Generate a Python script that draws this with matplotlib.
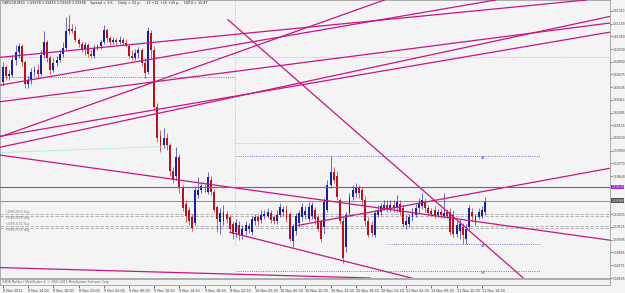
import matplotlib
matplotlib.use('Agg')
from matplotlib import pyplot as plt
import numpy as np

# GBPUSD M30 candles, 8 Nov 10:00 .. 11 Nov 14:30
opens = [1.6060, 1.6075, 1.6066, 1.6067, 1.6082, 1.6090, 1.6096, 1.6080, 1.6058, 1.6062,
         1.6070, 1.6072, 1.6068, 1.6087, 1.6100, 1.6084, 1.6072, 1.6079, 1.6082, 1.6088,
         1.6094, 1.6111, 1.6114, 1.6112, 1.6102, 1.6098, 1.6093, 1.6097, 1.6088, 1.6086,
         1.6094, 1.6096, 1.6100, 1.6113, 1.6104, 1.6100, 1.6102, 1.6100, 1.6102, 1.6099,
         1.6096, 1.6086, 1.6084, 1.6089, 1.6092, 1.6079, 1.6070, 1.6109, 1.6092, 1.6034,
         1.6005, 1.5996, 1.6003, 1.5996, 1.5969, 1.5964, 1.5983, 1.5953, 1.5936, 1.5930,
         1.5922, 1.5916, 1.5945, 1.5950, 1.5952, 1.5948, 1.5960, 1.5948, 1.5933, 1.5917,
         1.5918, 1.5926, 1.5922, 1.5915, 1.5907, 1.5914, 1.5904, 1.5908, 1.5910, 1.5907,
         1.5918, 1.5922, 1.5919, 1.5923, 1.5923, 1.5927, 1.5922, 1.5918, 1.5925, 1.5928,
         1.5930, 1.5926, 1.5898, 1.5908, 1.5916, 1.5922, 1.5925, 1.5920, 1.5924, 1.5930,
         1.5922, 1.5918, 1.5912, 1.5930, 1.5955, 1.5968, 1.5964, 1.5940, 1.5918, 1.5892,
         1.5927, 1.5943, 1.5947, 1.5952, 1.5950, 1.5940, 1.5918, 1.5914, 1.5904, 1.5925,
         1.5928, 1.5932, 1.5935, 1.5931, 1.5935, 1.5932, 1.5936, 1.5932, 1.5914, 1.5915,
         1.5922, 1.5925, 1.5932, 1.5934, 1.5938, 1.5932, 1.5929, 1.5930, 1.5925, 1.5928,
         1.5924, 1.5928, 1.5928, 1.5925, 1.5905, 1.5908, 1.5912, 1.5900, 1.5912, 1.5928,
         1.5918, 1.5922, 1.5923, 1.5928]
highs = [1.6080, 1.6077, 1.6072, 1.6087, 1.6097, 1.6099, 1.6098, 1.6082, 1.6066, 1.6074,
         1.6076, 1.6078, 1.6092, 1.6111, 1.6102, 1.6087, 1.6084, 1.6086, 1.6092, 1.6100,
         1.6126, 1.6128, 1.6119, 1.6117, 1.6104, 1.6101, 1.6100, 1.6099, 1.6092, 1.6097,
         1.6098, 1.6102, 1.6118, 1.6115, 1.6106, 1.6105, 1.6104, 1.6106, 1.6105, 1.6103,
         1.6098, 1.6092, 1.6093, 1.6095, 1.6094, 1.6084, 1.6116, 1.6113, 1.6096, 1.6038,
         1.6011, 1.6013, 1.6008, 1.5998, 1.5973, 1.5994, 1.5986, 1.5955, 1.5940, 1.5933,
         1.5926, 1.5954, 1.5963, 1.5958, 1.5956, 1.5968, 1.5964, 1.5951, 1.5935, 1.5932,
         1.5935, 1.5929, 1.5925, 1.5918, 1.5920, 1.5918, 1.5914, 1.5918, 1.5916, 1.5923,
         1.5926, 1.5925, 1.5930, 1.5930, 1.5932, 1.5930, 1.5925, 1.5930, 1.5937, 1.5934,
         1.5935, 1.5928, 1.5915, 1.5927, 1.5930, 1.5937, 1.5934, 1.5938, 1.5938, 1.5933,
         1.5925, 1.5920, 1.5942, 1.5960, 1.5984, 1.5973, 1.5969, 1.5942, 1.5922, 1.5928,
         1.5947, 1.5955, 1.5957, 1.5955, 1.5953, 1.5944, 1.5922, 1.5918, 1.5930, 1.5935,
         1.5937, 1.5940, 1.5940, 1.5940, 1.5940, 1.5945, 1.5940, 1.5935, 1.5925, 1.5926,
         1.5932, 1.5936, 1.5942, 1.5947, 1.5942, 1.5935, 1.5932, 1.5934, 1.5931, 1.5932,
         1.5947, 1.5931, 1.5932, 1.5930, 1.5918, 1.5920, 1.5916, 1.5915, 1.5935, 1.5932,
         1.5926, 1.5932, 1.5934, 1.5943]
lows = [1.6056, 1.6062, 1.6062, 1.6065, 1.6077, 1.6084, 1.6076, 1.6054, 1.6054, 1.6058,
        1.6066, 1.6064, 1.6066, 1.6084, 1.6080, 1.6068, 1.6070, 1.6076, 1.6080, 1.6085,
        1.6092, 1.6108, 1.6109, 1.6100, 1.6095, 1.6090, 1.6087, 1.6085, 1.6084, 1.6084,
        1.6092, 1.6093, 1.6098, 1.6100, 1.6097, 1.6098, 1.6097, 1.6098, 1.6097, 1.6095,
        1.6084, 1.6082, 1.6082, 1.6084, 1.6076, 1.6064, 1.6068, 1.6084, 1.6032, 1.5999,
        1.5989, 1.5993, 1.5991, 1.5964, 1.5957, 1.5960, 1.5947, 1.5929, 1.5917, 1.5914,
        1.5908, 1.5914, 1.5942, 1.5947, 1.5948, 1.5946, 1.5945, 1.5928, 1.5907, 1.5905,
        1.5914, 1.5916, 1.5906, 1.5900, 1.5902, 1.5899, 1.5900, 1.5904, 1.5906, 1.5904,
        1.5914, 1.5914, 1.5916, 1.5920, 1.5921, 1.5916, 1.5915, 1.5915, 1.5922, 1.5924,
        1.5917, 1.5898, 1.5892, 1.5904, 1.5912, 1.5918, 1.5920, 1.5918, 1.5920, 1.5915,
        1.5908, 1.5897, 1.5905, 1.5928, 1.5952, 1.5957, 1.5940, 1.5915, 1.5876, 1.5887,
        1.5924, 1.5940, 1.5943, 1.5942, 1.5935, 1.5913, 1.5902, 1.5903, 1.5902, 1.5922,
        1.5925, 1.5930, 1.5928, 1.5928, 1.5928, 1.5928, 1.5925, 1.5912, 1.5910, 1.5912,
        1.5918, 1.5922, 1.5928, 1.5931, 1.5928, 1.5924, 1.5923, 1.5921, 1.5922, 1.5921,
        1.5921, 1.5921, 1.5904, 1.5902, 1.5902, 1.5900, 1.5895, 1.5895, 1.5908, 1.5918,
        1.5914, 1.5920, 1.5921, 1.5925]
closes = [1.6075, 1.6066, 1.6068, 1.6082, 1.6090, 1.6096, 1.6080, 1.6058, 1.6062, 1.6070,
          1.6072, 1.6068, 1.6087, 1.6100, 1.6084, 1.6072, 1.6079, 1.6082, 1.6088, 1.6094,
          1.6111, 1.6114, 1.6112, 1.6102, 1.6098, 1.6093, 1.6097, 1.6088, 1.6086, 1.6094,
          1.6096, 1.6100, 1.6113, 1.6104, 1.6100, 1.6102, 1.6100, 1.6102, 1.6099, 1.6096,
          1.6086, 1.6084, 1.6089, 1.6092, 1.6079, 1.6069, 1.6111, 1.6092, 1.6034, 1.6003,
          1.5996, 1.6003, 1.5996, 1.5969, 1.5960, 1.5983, 1.5953, 1.5932, 1.5923, 1.5918,
          1.5911, 1.5950, 1.5950, 1.5954, 1.5953, 1.5963, 1.5948, 1.5930, 1.5920, 1.5927,
          1.5928, 1.5920, 1.5910, 1.5905, 1.5916, 1.5904, 1.5910, 1.5914, 1.5913, 1.5920,
          1.5922, 1.5918, 1.5925, 1.5926, 1.5928, 1.5919, 1.5918, 1.5925, 1.5933, 1.5931,
          1.5920, 1.5900, 1.5913, 1.5923, 1.5927, 1.5933, 1.5929, 1.5933, 1.5935, 1.5920,
          1.5910, 1.5900, 1.5938, 1.5955, 1.5968, 1.5960, 1.5943, 1.5918, 1.5881, 1.5925,
          1.5943, 1.5950, 1.5952, 1.5947, 1.5940, 1.5918, 1.5904, 1.5906, 1.5927, 1.5930,
          1.5934, 1.5935, 1.5931, 1.5935, 1.5932, 1.5938, 1.5928, 1.5915, 1.5918, 1.5922,
          1.5928, 1.5932, 1.5937, 1.5940, 1.5932, 1.5927, 1.5926, 1.5925, 1.5928, 1.5925,
          1.5927, 1.5924, 1.5907, 1.5905, 1.5914, 1.5915, 1.5904, 1.5910, 1.5932, 1.5923,
          1.5923, 1.5928, 1.5930, 1.5938]

time_labels = ['8 Nov 2011', '8 Nov 14:00', '8 Nov 18:00', '8 Nov 22:00', '9 Nov 02:00',
               '9 Nov 06:00', '9 Nov 10:30', '9 Nov 14:30', '9 Nov 18:30', '9 Nov 22:30',
               '10 Nov 02:30', '10 Nov 06:30', '10 Nov 10:30', '10 Nov 14:30', '10 Nov 18:30',
               '10 Nov 22:30', '11 Nov 02:30', '11 Nov 06:30', '11 Nov 10:30', '11 Nov 14:30']
price_ticks = [1.61320, 1.61190, 1.61060, 1.60930, 1.60800, 1.60675, 1.60545, 1.60415,
               1.60285, 1.60155, 1.60030, 1.59900, 1.59770, 1.59640, 1.59255, 1.59125,
               1.58995, 1.58865, 1.58735, 1.58605]

# trend lines as two anchors (bar index, price), drawn as infinite lines
trend_lines = [((0, 1.6085), (150, 1.6132)),
               ((0, 1.6057), (100, 1.6112)),
               ((0, 1.6040), (150, 1.6102)),
               ((0, 1.6005), (100, 1.6119)),
               ((0, 1.6005), (150, 1.6087)),
               ((0, 1.5994), (150, 1.6097)),
               ((0, 1.5985), (150, 1.5918)),
               ((0, 1.5871), (100, 1.5862))]
# rays start at their first anchor
trend_rays = [((71.4, 1.6123), (165.0, 1.5861)),
              ((93.7, 1.5914), (150, 1.5947)),
              ((72.0, 1.5907), (129, 1.5861))]

hline_price = 1.5953
bid_price = 1.59388
order_levels = [1.59260, 1.59230, 1.59138, 1.59118]
order_texts = ['+2089(2817) Buy', '+2089(4299) Avg', '+2089(2161) Buy', '+2089(2191) Avg']

header = ('GBPUSD,M30  1.59378 1.59415 1.59369 1.59388    Spread = 3.6,    '
          'Daily = 52 p,    -13 +11 +15 +25 p,    H4T4 = 15:47')

BG = '#f4f4f4'
BULL = '#1e1e96'
BEAR = '#b4141e'
TREND = '#c71585'


def draw_candles(ax):
    o = np.array(opens)
    h = np.array(highs)
    l = np.array(lows)
    c = np.array(closes)
    x = np.arange(len(o))
    up = c >= o
    cols = np.where(up, BULL, BEAR)
    ax.vlines(x, l, h, colors=cols, linewidth=0.6, alpha=0.75, zorder=3)
    body_lo = np.minimum(o, c)
    body_h = np.maximum(np.abs(c - o), 0.00004)
    ax.bar(x, body_h, bottom=body_lo, width=0.62, color=cols, linewidth=0, zorder=4)


def frame(ax):
    ax.set_facecolor(BG)
    for s in ax.spines.values():
        s.set_color('#a0a0a0')
        s.set_linewidth(0.6)


def main():
    fig = plt.figure(figsize=(6.25, 2.93), dpi=100)
    fig.patch.set_facecolor(BG)

    ax = fig.add_axes([0.0, 15 / 293, 610 / 625, 278 / 293])
    frame(ax)
    xlim = (-0.95, 192.7)
    ax.set_xlim(*xlim)
    ax.set_ylim(1.58611, 1.61430)

    draw_candles(ax)

    for p1, p2 in trend_lines:
        ax.axline(p1, p2, color=TREND, linewidth=0.9, zorder=5)
    for p1, p2 in trend_rays:
        slope = (p2[1] - p1[1]) / (p2[0] - p1[0])
        x_end = 193
        ax.plot([p1[0], x_end], [p1[1], p1[1] + slope * (x_end - p1[0])],
                color=TREND, linewidth=0.9, zorder=5)

    ax.axhline(hline_price, color='#a040c8', linewidth=0.8, zorder=5)
    ax.axhline(bid_price, color='#909090', linewidth=0.7, zorder=2)
    for lev in order_levels:
        ax.axhline(lev, color='#a8a8a8', linewidth=0.6, linestyle=(0, (4, 2)), zorder=1)
    for i, (lev, txt) in enumerate(zip(order_levels, order_texts)):
        ax.text(0.5, lev, txt, fontsize=2.0, color='#808080', ha='left',
                va='bottom' if i % 2 == 0 else 'top')

    # dotted levels
    ax.hlines(1.6085, -1, 193, colors='#d8a070', linewidth=0.6, linestyles=':')
    ax.hlines(1.6065, -1, 73.7, colors='#5050a0', linewidth=0.6, linestyles=':')
    ax.hlines(1.6044, -1, 26, colors='#d8a070', linewidth=0.6, linestyles=':')
    ax.plot([-1, 50], [1.5988, 1.5994], color='#40d0e0', linewidth=0.6, linestyle=':')
    ax.hlines(1.5998, 74, 113, colors='#d8a070', linewidth=0.6, linestyles=':')
    ax.hlines(1.5984, 74, 170.5, colors='#5050b0', linewidth=0.6, linestyles=':')
    ax.hlines(1.5895, 122, 170.5, colors='#5050b0', linewidth=0.6, linestyles=':')
    ax.hlines(1.5868, 74, 170.5, colors='#5050b0', linewidth=0.6, linestyles=':')
    ax.axvline(73.7, ymin=0.12, color='#b0b0b0', linewidth=0.6, linestyle=':')
    for lev, t in [(1.5984, '44'), (1.5895, '44'), (1.5868, '58')]:
        ax.text(152.5, lev, t, fontsize=2.6, color='#5050b0', ha='center', va='top')

    ax.yaxis.tick_right()
    ax.set_yticks(price_ticks)
    ax.set_yticklabels(['%.5f' % p for p in price_ticks])
    ax.tick_params(axis='y', labelsize=2.2, colors='#404040', length=1.5, width=0.5, pad=0.5)
    ax.set_xticks([])

    # price tags on the scale
    for p, fc in [(hline_price, '#9a1fd0'), (bid_price, '#505050')]:
        ax.text(1.002, p, '%.5f' % p, transform=ax.get_yaxis_transform(), fontsize=2.2,
                color='white', va='center', ha='left',
                bbox=dict(boxstyle='square,pad=0.15', fc=fc, ec='none'))

    ax.text(0.003, 0.995, header, transform=ax.transAxes, fontsize=2.4,
            color='#202020', va='top', ha='left')

    # small indicator window + time scale
    ax2 = fig.add_axes([0.0, 8 / 293, 610 / 625, 6 / 293])
    frame(ax2)
    ax2.set_xlim(*xlim)
    ax2.set_yticks([])
    ax2.text(0.003, 0.5, 'iFXDB Malibu \u2022 MetaTrader 4, \u00a9 2001-2011 MetaQuotes Software Corp.',
             transform=ax2.transAxes, fontsize=2.2, color='#606060', va='center', ha='left')
    ticks = np.arange(0, len(opens), 8)
    ax2.set_xticks(ticks)
    ax2.set_xticklabels(time_labels, ha='left')
    ax2.tick_params(axis='x', labelsize=2.4, colors='#404040', length=2, width=0.5, pad=0.8)

    fig.savefig('out.png', dpi=100, facecolor=BG)


if __name__ == '__main__':
    main()
